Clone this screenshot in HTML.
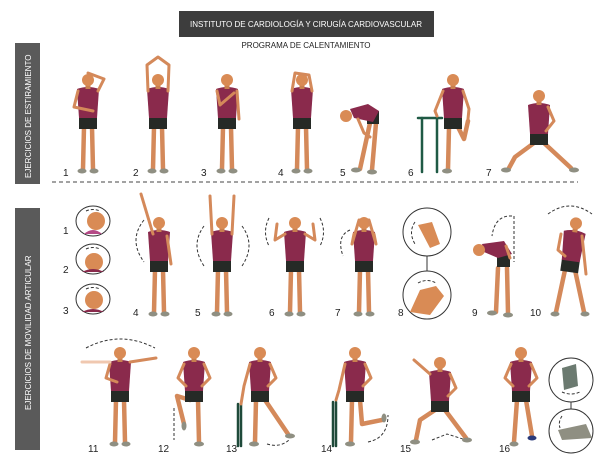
<!DOCTYPE html>
<html><head><meta charset="utf-8"><style>
html,body{margin:0;padding:0;background:#fff;width:605px;height:459px;overflow:hidden}
svg{display:block}
text{font-family:"Liberation Sans",sans-serif}
</style></head><body>
<svg width="605" height="459" viewBox="0 0 605 459" xmlns="http://www.w3.org/2000/svg">
<defs>
<g id="legs">
<line x1="-4" y1="-46" x2="-5" y2="-4" stroke="#d4895a" stroke-width="4.5" stroke-linecap="round"/>
<line x1="4" y1="-46" x2="5" y2="-4" stroke="#d4895a" stroke-width="4.5" stroke-linecap="round"/>
<ellipse cx="-6" cy="-2" rx="4.5" ry="2.5" fill="#8f8f82" stroke="none"/>
<ellipse cx="6" cy="-2" rx="4.5" ry="2.5" fill="#8f8f82" stroke="none"/>
</g>
<g id="top">
<rect x="-9" y="-57" width="18" height="13" fill="#262a26" stroke="none"/>
<path d="M-11,-84 Q0,-88 11,-84 L9,-55 L-9,-55 Z" fill="#8a2a4c" stroke="none"/>
<rect x="-2.5" y="-89" width="5" height="5" fill="#c9804f" stroke="none"/>
<circle cx="0" cy="-93" r="6" fill="#d98b55" stroke="none"/>
</g>
<g id="base"><use href="#legs"/><use href="#top"/></g>
<g id="hips">
<polyline points="-10,-82 -16,-68 -8,-60" fill="none" stroke="#d4895a" stroke-width="3" stroke-linejoin="round" stroke-linecap="round"/>
<polyline points="10,-82 16,-68 8,-60" fill="none" stroke="#d4895a" stroke-width="3" stroke-linejoin="round" stroke-linecap="round"/>
</g>
</defs>

<rect x="179" y="11" width="255" height="26" fill="#3d3d3d"/>
<text x="306" y="27" font-size="8.3" fill="#fff" text-anchor="middle" textLength="232" lengthAdjust="spacingAndGlyphs">INSTITUTO DE CARDIOLOGÍA Y CIRUGÍA CARDIOVASCULAR</text>
<text x="306" y="48" font-size="8" fill="#222" text-anchor="middle">PROGRAMA DE CALENTAMIENTO</text>

<rect x="15" y="43" width="25" height="141" fill="#5a5a5a"/>
<text transform="translate(31,178) rotate(-90)" font-size="8" fill="#fff">EJERCICIOS DE ESTIRAMIENTO</text>
<rect x="15" y="208" width="25" height="242" fill="#5a5a5a"/>
<text transform="translate(31,410) rotate(-90)" font-size="8" fill="#fff">EJERCICIOS DE MOVILIDAD ARTICULAR</text>

<line x1="52" y1="182" x2="578" y2="182" stroke="#444" stroke-width="1" stroke-dasharray="4,3"/>

<g font-size="10" fill="#222">
<text x="63" y="176">1</text><text x="133" y="176">2</text><text x="201" y="176">3</text><text x="278" y="176">4</text><text x="340" y="176">5</text><text x="408" y="176">6</text><text x="486" y="176">7</text>
<text x="63" y="234">1</text><text x="63" y="273">2</text><text x="63" y="314">3</text>
<text x="133" y="316">4</text><text x="195" y="316">5</text><text x="269" y="316">6</text><text x="335" y="316">7</text><text x="398" y="316">8</text><text x="472" y="316">9</text><text x="530" y="316">10</text>
<text x="88" y="452">11</text><text x="158" y="452">12</text><text x="226" y="452">13</text><text x="321" y="452">14</text><text x="400" y="452">15</text><text x="499" y="452">16</text>
</g>

<g stroke="#d4895a" stroke-width="3" stroke-linecap="round" stroke-linejoin="round" fill="none">
<g transform="translate(88,173)"><use href="#base"/><polyline points="-10,-82 -14,-66 5,-62"/><polyline points="10,-82 16,-94 0,-100"/></g>
<g transform="translate(158,173)"><use href="#base"/><polyline points="-10,-82 -11,-108 0,-116 11,-108 10,-82"/></g>
<g transform="translate(227,173)"><use href="#base"/><polyline points="-10,-82 -7,-68 7,-80"/><line x1="10" y1="-82" x2="12" y2="-54"/></g>
<g transform="translate(302,173)"><use href="#base"/><polyline points="-10,-82 -7,-100 7,-98 10,-82"/></g>
<g transform="translate(364,173)">
<line x1="6" y1="-50" x2="-4" y2="-4" stroke-width="4.5"/><line x1="12" y1="-50" x2="8" y2="-3" stroke-width="4.5"/>
<ellipse cx="-8" cy="-3" rx="5" ry="2.5" fill="#8f8f82" stroke="none"/><ellipse cx="8" cy="-1" rx="5" ry="2.5" fill="#8f8f82" stroke="none"/>
<rect x="3" y="-62" width="12" height="13" fill="#262a26" stroke="none"/>
<path d="M-14,-64 L4,-69 L15,-62 L9,-51 L-10,-55 Z" fill="#8a2a4c" stroke="none"/>
<circle cx="-18" cy="-57" r="6" fill="#d98b55" stroke="none"/>
<polyline points="-6,-54 0,-40 6,-36"/>
</g>
<g stroke="#1f5a45" stroke-width="2.5"><line x1="418" y1="118" x2="442" y2="118"/><line x1="422" y1="118" x2="422" y2="172"/><line x1="437" y1="118" x2="437" y2="172"/></g>
<g transform="translate(453,173)">
<line x1="-4" y1="-46" x2="-5" y2="-4" stroke-width="4.5"/><polyline points="5,-46 11,-34 15,-52" stroke-width="4.5"/>
<ellipse cx="-6" cy="-2" rx="5" ry="2.5" fill="#8f8f82" stroke="none"/>
<use href="#top"/><polyline points="-10,-82 -18,-62 -16,-57"/><polyline points="10,-82 16,-64 15,-54"/></g>
<g transform="translate(539,173)">
<polyline points="-5,-30 -24,-16 -30,-5" stroke-width="4.5"/><line x1="5" y1="-30" x2="32" y2="-5" stroke-width="4.5"/>
<ellipse cx="-33" cy="-3" rx="5" ry="2.5" fill="#8f8f82" stroke="none"/><ellipse cx="35" cy="-3" rx="5" ry="2.5" fill="#8f8f82" stroke="none"/>
<g transform="translate(0,16)"><use href="#top"/></g><polyline points="9,-66 15,-52 7,-42"/></g>
</g>

<g fill="#fff" stroke="#333" stroke-width="1">
<ellipse cx="93" cy="221" rx="17" ry="15"/><ellipse cx="93" cy="259" rx="17" ry="15"/><ellipse cx="93" cy="299" rx="17" ry="15"/>
<circle cx="427" cy="232" r="24"/><circle cx="427" cy="295" r="24"/><line x1="427" y1="256" x2="427" y2="271"/>
<circle cx="571" cy="380" r="22"/><circle cx="571" cy="431" r="22"/><line x1="571" y1="402" x2="571" y2="409"/>
</g>
<g fill="#d98b55">
<circle cx="96" cy="221" r="9"/><path d="M84,234 Q93,226 102,234 Z" fill="#b44a86"/>
<circle cx="94" cy="262" r="9"/><path d="M82,272 Q93,266 104,272 Z" fill="#8a2a4c"/>
<circle cx="94" cy="300" r="9"/><path d="M82,312 Q93,306 104,312 Z" fill="#8a2a4c"/>
<path d="M418,225 L432,222 L440,244 L430,248 Z"/><path d="M410,312 L420,290 L436,286 L444,296 L430,315 Z"/>
<path d="M562,368 L576,364 L578,386 L564,390 Z" fill="#6b7a70"/><path d="M558,430 L586,424 L592,438 L562,440 Z" fill="#8f8f82"/>
</g>
<g fill="none" stroke="#333" stroke-width="1" stroke-dasharray="3,2">
<path d="M86,211 Q93,208 100,211"/><path d="M86,249 Q93,246 100,249"/><path d="M86,289 Q93,286 100,289"/>
<path d="M415,222 Q408,232 415,244"/><path d="M418,283 Q427,278 436,283"/>
<path d="M562,416 Q558,422 560,428"/><path d="M562,392 Q571,396 580,392"/>
<path d="M144,220 Q128,240 144,262"/>
<path d="M204,226 Q190,245 204,266"/><path d="M242,226 Q256,245 242,266"/>
<path d="M269,218 Q262,232 269,246"/><path d="M320,218 Q327,232 320,246"/>
<path d="M350,230 Q336,236 343,256"/>
<path d="M512,216 Q495,215 492,236"/><line x1="514" y1="216" x2="514" y2="262"/>
<path d="M548,214 Q570,198 592,214"/>
<path d="M86,348 Q120,330 155,348"/>
<line x1="174" y1="408" x2="174" y2="440"/>
<path d="M267,444 Q280,448 289,440"/>
<path d="M368,442 Q388,438 388,415"/>
<path d="M432,440 L447,434 L466,440"/>
</g>
<g stroke="#d4895a" stroke-width="3" stroke-linecap="round" stroke-linejoin="round" fill="none">
<g transform="translate(159,316)"><use href="#base"/><polyline points="-6,-82 -12,-102 -18,-122"/><line x1="8" y1="-80" x2="12" y2="-52"/></g>
<g transform="translate(222,316)"><use href="#base"/><line x1="-10" y1="-82" x2="-12" y2="-120"/><line x1="10" y1="-82" x2="12" y2="-120"/></g>
<g transform="translate(295,316)"><use href="#base"/><polyline points="-10,-82 -20,-76 -18,-92"/><polyline points="10,-82 20,-76 18,-92"/></g>
<g transform="translate(364,316)"><use href="#base"/><polyline points="-10,-82 -12,-72 -5,-96"/><polyline points="10,-82 12,-72 5,-96"/></g>
<g transform="translate(500,316)">
<line x1="-2" y1="-48" x2="-4" y2="-4" stroke-width="4.5"/><line x1="7" y1="-48" x2="8" y2="-3" stroke-width="4.5"/>
<ellipse cx="-8" cy="-3" rx="5" ry="2.5" fill="#8f8f82" stroke="none"/><ellipse cx="8" cy="-1" rx="5" ry="2.5" fill="#8f8f82" stroke="none"/>
<rect x="-3" y="-62" width="13" height="13" fill="#262a26" stroke="none"/>
<path d="M-18,-72 L4,-75 L12,-62 L-2,-58 L-16,-64 Z" fill="#8a2a4c" stroke="none"/>
<circle cx="-21" cy="-66" r="6" fill="#d98b55" stroke="none"/>
<polyline points="6,-70 10,-58"/></g>
<g transform="translate(570,316)">
<line x1="-5" y1="-46" x2="-14" y2="-4" stroke-width="4.5"/><line x1="5" y1="-46" x2="14" y2="-4" stroke-width="4.5"/>
<ellipse cx="-15" cy="-2" rx="4.5" ry="2.5" fill="#8f8f82" stroke="none"/><ellipse cx="15" cy="-2" rx="4.5" ry="2.5" fill="#8f8f82" stroke="none"/>
<use href="#top" transform="rotate(8,0,-50)"/><polyline points="-9,-82 -12,-66 -5,-60"/><line x1="12" y1="-80" x2="16" y2="-42"/></g>

<g transform="translate(120,446)"><use href="#base"/><polyline points="-10,-82 -14,-68 -3,-64"/><line x1="10" y1="-84" x2="36" y2="-88"/><line x1="-10" y1="-84" x2="-38" y2="-84" stroke="#f0c8b0"/></g>
<g transform="translate(194,446)"><line x1="4" y1="-46" x2="5" y2="-4" stroke-width="4.5"/><polyline points="-4,-46 -17,-50 -10,-22" stroke-width="4.5"/><ellipse cx="5" cy="-2" rx="5" ry="2.5" fill="#8f8f82" stroke="none"/><ellipse cx="-10" cy="-20" rx="2.5" ry="4.5" fill="#8f8f82" stroke="none"/><use href="#top"/><use href="#hips"/></g>
<g stroke="#1f4a3a" stroke-width="2.5"><line x1="238" y1="404" x2="238" y2="446"/><line x1="241" y1="404" x2="241" y2="446"/></g>
<g transform="translate(260,446)"><line x1="-4" y1="-46" x2="-5" y2="-4" stroke-width="4.5"/><line x1="5" y1="-46" x2="28" y2="-12" stroke-width="4.5"/><ellipse cx="-6" cy="-2" rx="5" ry="2.5" fill="#8f8f82" stroke="none"/><ellipse cx="30" cy="-10" rx="5" ry="2.5" fill="#8f8f82" stroke="none"/><use href="#top"/><polyline points="-10,-82 -16,-60 -19,-42"/><polyline points="10,-82 16,-68 8,-60"/></g>
<g stroke="#1f4a3a" stroke-width="2.5"><line x1="333" y1="402" x2="333" y2="446"/><line x1="336" y1="402" x2="336" y2="446"/></g>
<g transform="translate(355,446)"><line x1="-3" y1="-46" x2="-4" y2="-4" stroke-width="4.5"/><polyline points="5,-46 7,-22 27,-26" stroke-width="4.5"/><ellipse cx="-5" cy="-2" rx="5" ry="2.5" fill="#8f8f82" stroke="none"/><ellipse cx="29" cy="-28" rx="2.5" ry="4.5" fill="#8f8f82" stroke="none"/><use href="#top"/><polyline points="-10,-82 -16,-56 -19,-46"/><polyline points="10,-82 16,-68 8,-60"/></g>
<g transform="translate(440,446)"><polyline points="-5,-36 -20,-26 -24,-6" stroke-width="4.5"/><line x1="5" y1="-36" x2="26" y2="-8" stroke-width="4.5"/><ellipse cx="-25" cy="-4" rx="5" ry="2.5" fill="#8f8f82" stroke="none"/><ellipse cx="27" cy="-6" rx="5" ry="2.5" fill="#8f8f82" stroke="none"/><g transform="translate(0,10)"><use href="#top"/></g><polyline points="-10,-72 -26,-86"/><polyline points="10,-72 16,-58 8,-50"/></g>
<g transform="translate(521,446)"><line x1="-4" y1="-46" x2="-7" y2="-4" stroke-width="4.5"/><line x1="5" y1="-46" x2="11" y2="-10" stroke-width="4.5"/><ellipse cx="-7" cy="-2" rx="4.5" ry="2.5" fill="#8f8f82" stroke="none"/><ellipse cx="11" cy="-8" rx="4.5" ry="2.5" fill="#2a3a7a" stroke="none"/><use href="#top"/><use href="#hips"/></g>
</g>
</svg>
</body></html>
